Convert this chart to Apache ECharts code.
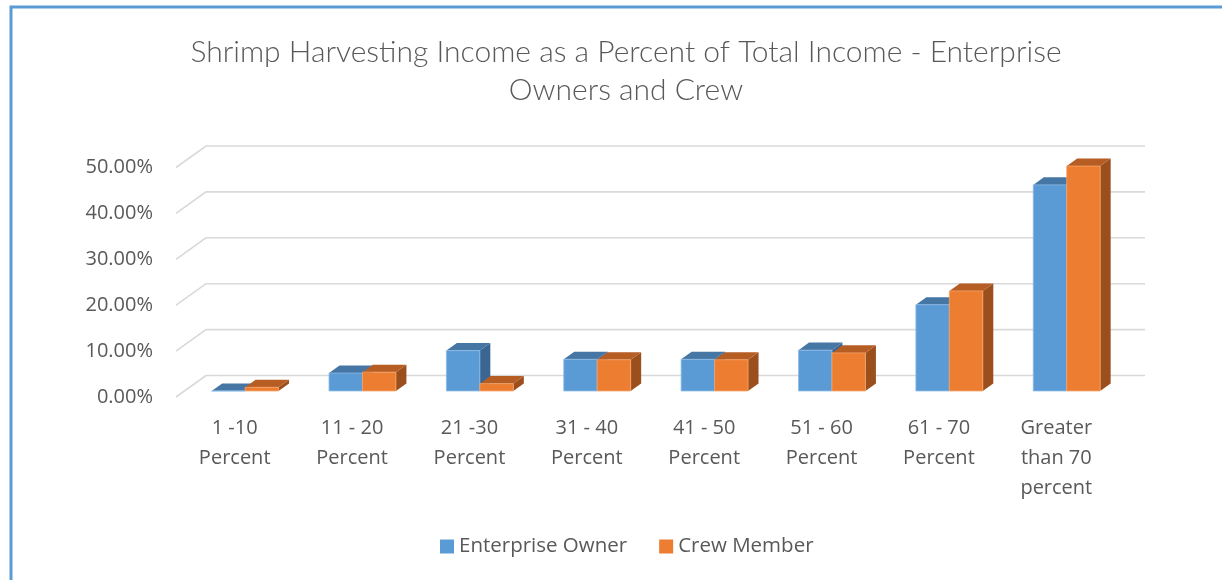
<!DOCTYPE html>
<html>
<head>
<meta charset="utf-8">
<script src="https://cdn.jsdelivr.net/npm/echarts@6/dist/echarts.min.js"></script>
<style>
  html, body { margin: 0; padding: 0; background: #fff; }
  #chart { width: 1222px; height: 580px; }
</style>
</head>
<body>
<div id="chart"></div>
<script>
// Income share brackets and the fraction of respondents in each
const categories = [
  '1 -10\nPercent', '11 - 20\nPercent', '21 -30\nPercent', '31 - 40\nPercent',
  '41 - 50\nPercent', '51 - 60\nPercent', '61 - 70\nPercent', 'Greater\nthan 70\npercent'
];
const enterpriseOwner = [0.000, 0.039, 0.088, 0.069, 0.069, 0.089, 0.188, 0.449];
const crewMember      = [0.008, 0.041, 0.016, 0.068, 0.068, 0.083, 0.218, 0.490];
const yTicks = [0, 0.1, 0.2, 0.3, 0.4, 0.5];
const seriesNames = ['Enterprise Owner', 'Crew Member'];

// Oblique "3D" look: depth offset of the back wall, bar placement and bar thickness
const WALL_DX = 30, WALL_DY = -21.5;
const BAR_DEPTH = 0.28;           // bar front face sits this far into the box
const BAR_THICK = 0.35;           // bar thickness as a share of the box depth
const BAR_WIDTH_RATIO = 0.285;    // one bar's width as a share of a category band
const BAR_SHIFT = 2;              // small extra nudge to the right

const palette = [
  { front: '#5B9BD5', top: '#4676A4', side: '#3B6693', edge: '#8DBBE6' },
  { front: '#ED7D31', top: '#B65D24', side: '#9A4F1D', edge: '#F5A46C' }
];

const TITLE_FONT = 'Lato, "Open Sans", sans-serif';
const FONT = '"Open Sans", Lato, sans-serif';
const TEXT = '#595959';

const chart = echarts.init(document.getElementById('chart'), null, { renderer: 'canvas' });

// back wall gridlines plus the diagonal side-wall lines on the left
function renderWall(params, api) {
  const cs = params.coordSys;
  const y = api.coord([0, api.value(1)])[1];
  const x0 = cs.x;
  const x1 = cs.x + cs.width;
  return {
    type: 'polyline',
    shape: { points: [[x0, y], [x0 + WALL_DX, y + WALL_DY], [x1 + WALL_DX, y + WALL_DY]] },
    style: { stroke: '#D9D9D9', lineWidth: 1.6, fill: null }
  };
}

function makeBarRenderer(sIdx) {
  const col = palette[sIdx];
  return function (params, api) {
    const cat = api.value(0);
    const base = api.coord([cat, 0]);
    const top = api.coord([cat, api.value(1)]);
    const band = api.size([1, 0])[0];
    const bw = band * BAR_WIDTH_RATIO;
    const ox = WALL_DX * BAR_DEPTH + BAR_SHIFT, oy = WALL_DY * BAR_DEPTH;
    const tx = WALL_DX * BAR_THICK, ty = WALL_DY * BAR_THICK;
    const left = base[0] + ox - (sIdx === 0 ? bw : 0);
    const right = left + bw;
    const yb = base[1] + oy;
    const yt = top[1] + oy;
    return {
      type: 'group',
      children: [
        {
          type: 'polygon',
          shape: { points: [[right, yt], [right + tx, yt + ty], [right + tx, yb + ty], [right, yb]] },
          style: { fill: col.side }
        },
        {
          type: 'polygon',
          shape: { points: [[left, yt], [left + tx, yt + ty], [right + tx, yt + ty], [right, yt]] },
          style: { fill: col.top }
        },
        {
          type: 'rect',
          shape: { x: left, y: yt, width: bw, height: yb - yt },
          style: { fill: col.front, stroke: col.edge, lineWidth: 0.8 }
        }
      ]
    };
  };
}

const option = {
  backgroundColor: '#ffffff',
  animation: false,
  title: {
    text: 'Shrimp Harvesting Income as a Percent of Total Income - Enterprise\nOwners and Crew',
    left: 621,
    top: 28,
    textAlign: 'center',
    textStyle: { fontFamily: TITLE_FONT, fontWeight: 300, fontSize: 30, lineHeight: 38, color: TEXT }
  },
  legend: {
    data: seriesNames.map(n => ({ name: n, icon: 'rect' })),
    left: 435,
    top: 531,
    itemWidth: 14,
    itemHeight: 14,
    itemGap: 32,
    textStyle: { fontFamily: FONT, fontSize: 20.5, color: TEXT }
  },
  graphic: [{
    type: 'rect',
    shape: { x: 11, y: 7, width: 1400, height: 800 },
    style: { fill: null, stroke: '#5B9BD5', lineWidth: 3 },
    silent: true
  }],
  grid: { left: 176, top: 167.5, width: 939, height: 229.5 },
  xAxis: {
    type: 'category',
    data: categories,
    axisLine: { show: false },
    axisTick: { show: false },
    axisLabel: {
      margin: 16,
      interval: 0,
      fontFamily: FONT, fontSize: 20, lineHeight: 30, color: TEXT
    }
  },
  yAxis: {
    type: 'value',
    min: 0, max: 0.5, interval: 0.1,
    axisLine: { show: false },
    axisTick: { show: false },
    splitLine: { show: false },
    axisLabel: {
      margin: 23,
      fontFamily: FONT, fontSize: 20, color: TEXT,
      formatter: v => (v * 100).toFixed(2) + '%'
    }
  },
  series: [
    {
      type: 'custom',
      name: 'wall',
      silent: true,
      z: 1,
      renderItem: renderWall,
      data: yTicks.map(t => [0, t])
    },
    {
      type: 'custom',
      name: seriesNames[0],
      z: 2,
      itemStyle: { color: palette[0].front },
      renderItem: makeBarRenderer(0),
      data: enterpriseOwner.map((v, i) => [i, v])
    },
    {
      type: 'custom',
      name: seriesNames[1],
      z: 3,
      itemStyle: { color: palette[1].front },
      renderItem: makeBarRenderer(1),
      data: crewMember.map((v, i) => [i, v])
    }
  ]
};

chart.setOption(option);
</script>
</body>
</html>
